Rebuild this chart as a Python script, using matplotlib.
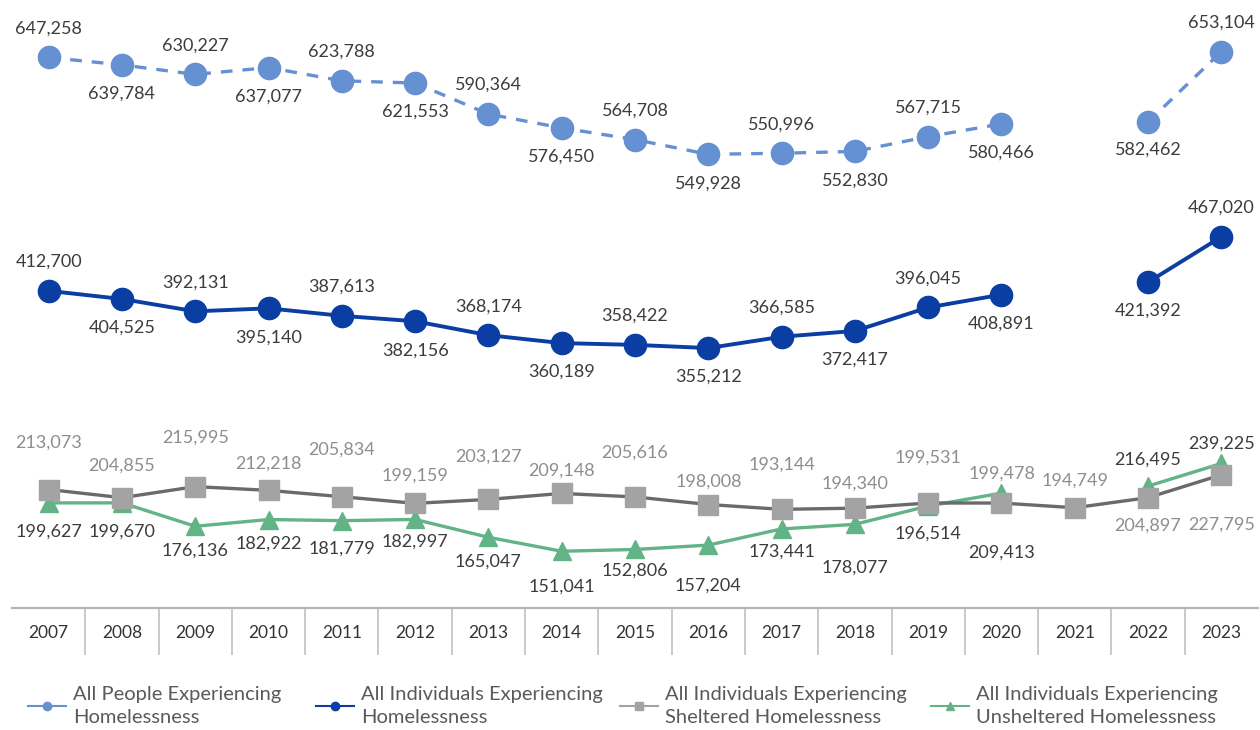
import numpy as np
import matplotlib
matplotlib.use("Agg")
import matplotlib.pyplot as plt
from matplotlib.lines import Line2D

plt.rcParams['font.family'] = ['Lato', 'DejaVu Sans']

years = ["2007", "2008", "2009", "2010", "2011", "2012", "2013", "2014", "2015",
         "2016", "2017", "2018", "2019", "2020", "2021", "2022", "2023"]
nan = np.nan
all_people = [647258, 639784, 630227, 637077, 623788, 621553, 590364, 576450, 564708,
              549928, 550996, 552830, 567715, 580466, nan, 582462, 653104]
all_individuals = [412700, 404525, 392131, 395140, 387613, 382156, 368174, 360189, 358422,
                   355212, 366585, 372417, 396045, 408891, nan, 421392, 467020]
sheltered = [213073, 204855, 215995, 212218, 205834, 199159, 203127, 209148, 205616,
             198008, 193144, 194340, 199531, 199478, 194749, 204897, 227795]
unsheltered = [199627, 199670, 176136, 182922, 181779, 182997, 165047, 151041, 152806,
               157204, 173441, 178077, 196514, 209413, nan, 216495, 239225]

legend_labels = ["All People Experiencing\nHomelessness",
                 "All Individuals Experiencing\nHomelessness",
                 "All Individuals Experiencing\nSheltered Homelessness",
                 "All Individuals Experiencing\nUnsheltered Homelessness"]

# label vertical offsets (pixels, negative = above)
alt = [-29 if i % 2 == 0 else 29 for i in range(len(years))]
alt[15] = 28
alt[16] = -29
gray_dy = [-47, -32, -49, -27, -47, -28, -43, -23, -44, -23, -45, -25, -45, -29, -27, 28, 50]
green_dy = [29, 29, 24, 24, 28, 22, 24, 35, 21, 41, 23, 43, 28, 59, 0, -26, -20]

c_light = "#6590d2"
c_dark = "#0a3ea3"
c_gray_m = "#a3a3a3"
c_gray_l = "#6a6a6a"
c_green = "#62b386"
txt_dark = "#3c3c3c"
txt_gray = "#8e8e8e"

fig = plt.figure(figsize=(12.6, 7.3), dpi=100)
fig.patch.set_facecolor("white")
ax = fig.add_axes([12 / 1260, 1 - 608 / 730, 1246 / 1260, 608 / 730])
x = np.arange(len(years))

ax.plot(x, unsheltered, color=c_green, lw=2.4, marker="^", ms=13, mfc=c_green,
        mec=c_green, zorder=2)
ax.plot(x, sheltered, color=c_gray_l, lw=2.4, marker="s", ms=15, mfc=c_gray_m,
        mec=c_gray_m, zorder=3)
ax.plot(x, all_individuals, color=c_dark, lw=2.8, marker="o", ms=16, mfc=c_dark,
        mec=c_dark, zorder=4)
ax.plot(x, all_people, color=c_light, lw=2.4, ls=(0, (3.5, 3)), marker="o", ms=16,
        mfc=c_light, mec=c_light, zorder=4)

def lab(vals, dys, color):
    for xi, v, dy in zip(x, vals, dys):
        if np.isnan(v):
            continue
        ax.annotate(f"{int(v):,}", (xi, v), xytext=(0, -dy), textcoords="offset pixels",
                    ha="center", va="center", fontsize=13, color=color, zorder=6)

lab(all_people, alt, txt_dark)
lab(all_individuals, alt, txt_dark)
lab(sheltered, gray_dy, txt_gray)
lab(unsheltered, green_dy, txt_dark)

ax.set_xlim(-0.5, len(years) - 0.5)
ax.set_ylim(94000, 705000)
ax.set_yticks([])
for s in ["top", "left", "right"]:
    ax.spines[s].set_visible(False)
ax.spines["bottom"].set_color("#b5b5b5")
ax.spines["bottom"].set_linewidth(1.6)

ax.set_xticks(x[:-1] + 0.5)
ax.set_xticklabels([])
ax.tick_params(axis="x", which="major", length=34, width=1.2, color="#c0c0c0", direction="out")
ax.set_xticks(x, minor=True)
ax.set_xticklabels(years, minor=True)
ax.tick_params(axis="x", which="minor", length=0, pad=12, labelsize=12.5, labelcolor="#333333")

handles = [
    Line2D([], [], color=c_light, lw=1.5, marker="o", ms=6),
    Line2D([], [], color=c_dark, lw=1.5, marker="o", ms=6),
    Line2D([], [], color=c_gray_m, lw=1.5, marker="s", ms=6),
    Line2D([], [], color=c_green, lw=1.5, marker="^", ms=6),
]
leg_x = [28, 316, 620, 931]
for h, l, lx in zip(handles, legend_labels, leg_x):
    leg = fig.legend([h], [l], loc="center left", bbox_to_anchor=(lx / 1260, 1 - 706 / 730),
                     frameon=False, fontsize=14.5, handlelength=1.9, handletextpad=0.35,
                     labelcolor="#5a5a5a", borderaxespad=0, borderpad=0)
    for t in leg.get_texts():
        t.set_linespacing(1.45)

fig.savefig("out.png", dpi=100, facecolor="white")
